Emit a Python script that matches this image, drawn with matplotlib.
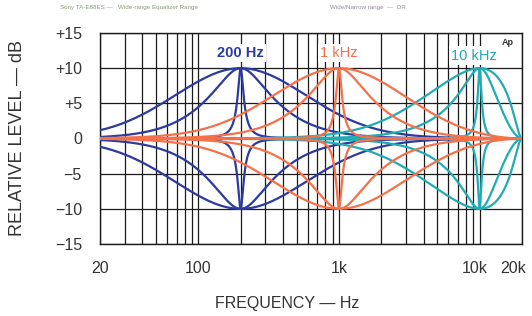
import numpy as np
import matplotlib.pyplot as plt
import matplotlib.transforms as mtransforms

# Equalizer settings
band_centers = [200, 1000, 10000]          # Hz
band_names = ['200 Hz', '1 kHz', '10 kHz']
band_colors = ['#2b3b9e', '#f4714a', '#22abb5']
gains_db = [10, -10]                       # full boost / full cut
q_values = [0.3, 0.75, 8.0]                # wide, medium, narrow
sample_rate = 40000                        # curves return to 0 dB at 20 kHz

x_ticks = [20, 100, 1000, 10000, 20000]
x_tick_labels = ['20', '100', '1k', '10k', '20k']
y_ticks = [15, 10, 5, 0, -5, -10, -15]
y_tick_labels = ['+15', '+10', '+5', '0', '\u22125', '\u221210', '\u221215']

plt.rcParams['font.family'] = ['Liberation Sans', 'DejaVu Sans']


def peaking_response(freqs, f0, gain, q, fs):
    """Magnitude (dB) of an RBJ peaking biquad."""
    A = 10 ** (gain / 40)
    w0 = 2 * np.pi * f0 / fs
    alpha = np.sin(w0) / (2 * q)
    b = [1 + alpha * A, -2 * np.cos(w0), 1 - alpha * A]
    a = [1 + alpha / A, -2 * np.cos(w0), 1 - alpha / A]
    z = np.exp(-1j * 2 * np.pi * freqs / fs)
    h = (b[0] + b[1] * z + b[2] * z ** 2) / (a[0] + a[1] * z + a[2] * z ** 2)
    return 20 * np.log10(np.abs(h))


freqs = np.logspace(np.log10(20), np.log10(20000), 1500)

fig = plt.figure(figsize=(5.32, 3.16), dpi=100)
ax = fig.add_axes([100 / 532, 72 / 316, 422 / 532, 211 / 316])

# draw order: blue, teal, orange
for i in [0, 2, 1]:
    for g in gains_db:
        for q in q_values:
            ax.plot(freqs, peaking_response(freqs, band_centers[i], g, q, sample_rate),
                    color=band_colors[i], lw=1.6, zorder=3)

ax.set_xscale('log')
ax.set_xlim(20, 20000)
ax.set_ylim(-15, 15)

minor = [m * 10 ** e for e in range(1, 5) for m in range(2, 10) if 20 <= m * 10 ** e <= 20000]
ax.set_xticks(minor, minor=True)
ax.set_xticks(x_ticks)
ax.set_xticklabels(x_tick_labels)
ax.set_xticklabels([], minor=True)
ax.set_yticks(y_ticks)
ax.set_yticklabels(y_tick_labels)
ax.grid(True, which='both', color='#1a1a1a', lw=0.9, zorder=1)
ax.tick_params(which='both', length=0, labelsize=11.5, colors='#333333')
ax.tick_params(axis='x', pad=12)
ax.tick_params(axis='y', pad=13)
for s in ax.spines.values():
    s.set_color('#1a1a1a')
    s.set_linewidth(1.0)

# nudge the last two frequency labels left, as in the original
xlabels = ax.get_xticklabels()
for lab, dx in zip(xlabels[-2:], [-5, -9]):
    lab.set_transform(lab.get_transform() + mtransforms.ScaledTranslation(dx / 100, 0, fig.dpi_scale_trans))

ax.set_xlabel('FREQUENCY \u2014 Hz', fontsize=11.5, color='#333333')
ax.xaxis.set_label_coords((287 - 100) / 422, -(296 - 244) / 211)
ax.set_ylabel('RELATIVE LEVEL \u2014 dB', fontsize=13, color='#333333')
ax.yaxis.set_label_coords(-(100 - 26) / 422, 0.5)

# band labels (white box hides the grid behind them)
box = dict(facecolor='white', edgecolor='none', pad=1.5)
ax.text(200, 12.1, band_names[0], color=band_colors[0], fontsize=10.5, ha='center', va='center',
        fontweight='bold', bbox=box, zorder=4)
ax.text(1000, 12.1, band_names[1], color=band_colors[1], fontsize=10.5, ha='center', va='center',
        bbox=box, zorder=4)
ax.text(9100, 11.8, band_names[2], color=band_colors[2], fontsize=10.5, ha='center', va='center',
        bbox=box, zorder=4)
ax.text(15900, 13.6, 'Ap', fontsize=6.5, fontweight='bold', color='#333333', ha='center', va='center',
        bbox=dict(facecolor='white', edgecolor='none', pad=0.5), zorder=4)

# faint header from the scanned page
fig.text(60 / 532, 1 - 8 / 316, 'Sony TA-E88ES \u2014   Wide-range Equalizer Range',
         fontsize=4.5, color='#8a9a7a', va='center')
fig.text(330 / 532, 1 - 8 / 316, 'Wide/Narrow range  \u2014  DR',
         fontsize=4.5, color='#9a8aa0', va='center')

fig.savefig('out.png', dpi=100)
